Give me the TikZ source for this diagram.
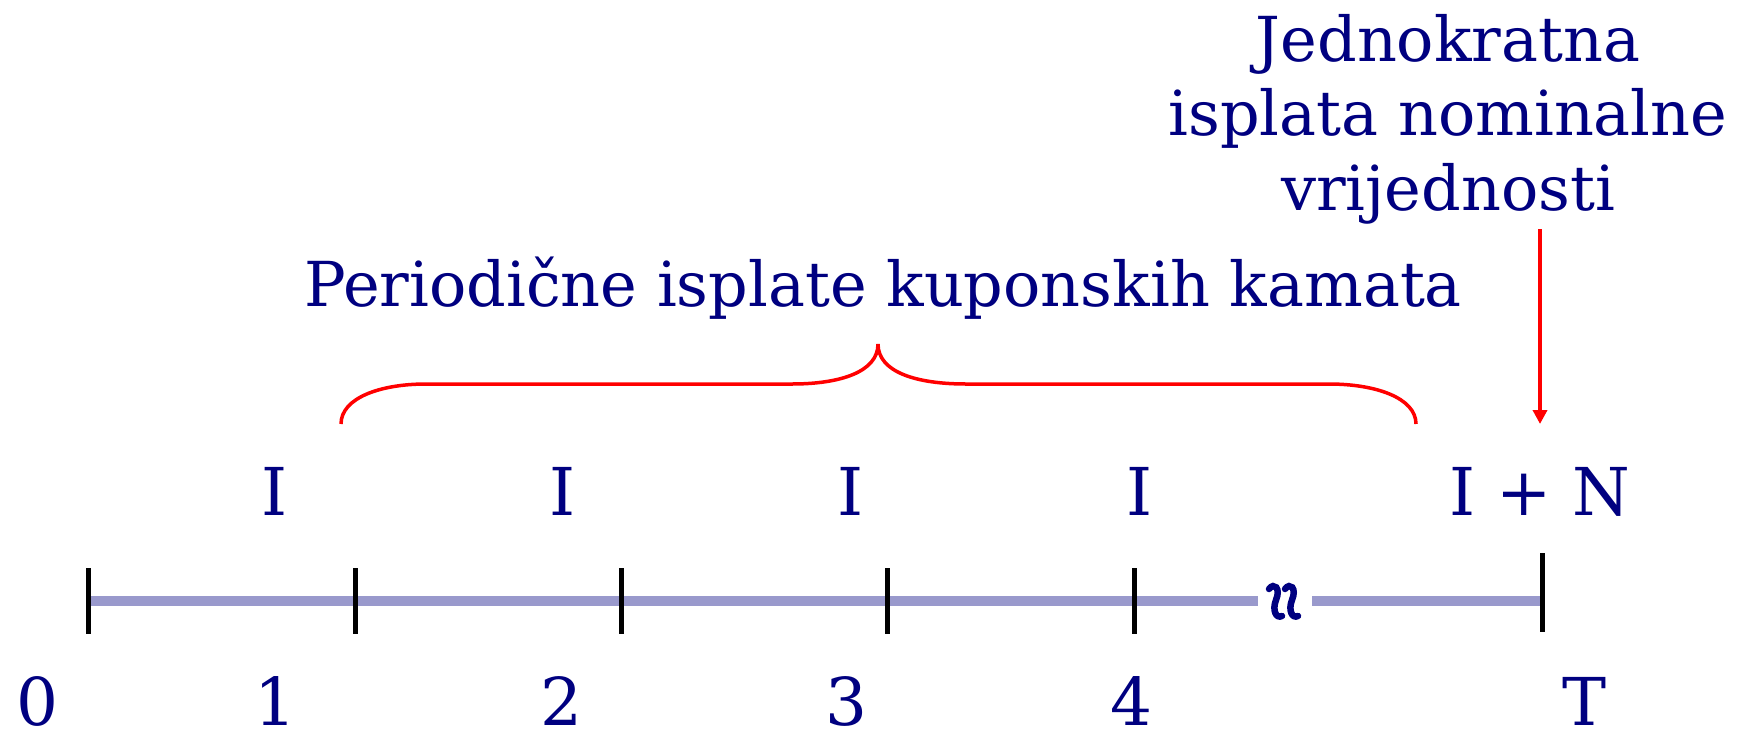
\documentclass[tikz,border=0pt]{standalone}
\usepackage{fontspec}
\setmainfont{DejaVu Serif}
\usetikzlibrary{arrows.meta}
\definecolor{navy}{RGB}{0,0,128}
\definecolor{axisc}{RGB}{153,153,204}
\tikzset{
  lbl/.style={text=navy, anchor=base, inner sep=0pt, font=\fontsize{66}{74}\selectfont},
  title/.style={text=navy, anchor=base, inner sep=0pt, align=center, font=\fontsize{62}{74.5}\selectfont},
  tick/.style={draw=black, line width=5pt},
  axisline/.style={draw=axisc, line width=10pt},
  brace/.style={draw=red, line width=3.5pt},
  arr/.style={draw=red, line width=4pt, -{Triangle[length=14pt,width=14pt]}},
  squig/.style={draw=navy, line width=6.5pt, line cap=round}
}
\begin{document}
\begin{tikzpicture}[x=1pt,y=-1pt]
\useasboundingbox (0,0) rectangle (1737,734);
% tick coordinates
\coordinate (t0a) at (88.6,568); \coordinate (t0b) at (88.6,634);
\coordinate (t1a) at (355.6,568); \coordinate (t1b) at (355.6,634);
\coordinate (t2a) at (621.5,568); \coordinate (t2b) at (621.5,634);
\coordinate (t3a) at (887.4,568); \coordinate (t3b) at (887.4,634);
\coordinate (t4a) at (1134.4,568); \coordinate (t4b) at (1134.4,634);
\coordinate (tTa) at (1542,553); \coordinate (tTb) at (1542,632);
\coordinate (g1) at (1258,601); \coordinate (g2) at (1312,601);
% axis
\draw[axisline] (t0a |- g1) -- (g1);
\draw[axisline] (g2) -- (tTa |- g2);
\foreach \t in {t0,t1,t2,t3,t4,tT} \draw[tick] (\t a) -- (\t b);
% break mark
\draw[squig] (1269,589) .. controls (1274,582) and (1281,588) .. (1276,600) .. controls (1272,610) and (1276,619) .. (1282,616);
\draw[squig] (1285,589) .. controls (1290,582) and (1297,588) .. (1292,600) .. controls (1288,610) and (1292,619) .. (1298,616);
% axis labels
\node[lbl, text depth=0pt] (n0) at (37,725) {0};
\node[lbl, text depth=0pt] (n1) at (275,725) {1};
\node[lbl, text depth=0pt] (n2) at (561,725) {2};
\node[lbl, text depth=0pt] (n3) at (846,725) {3};
\node[lbl, text depth=0pt] (n4) at (1131,725) {4};
\node[lbl, text depth=0pt] (nT) at (1584,725) {T};
% payments
\node[lbl] (i1) at (275,515) {I};
\node[lbl] (i2) at (563,515) {I};
\node[lbl] (i3) at (851,515) {I};
\node[lbl] (i4) at (1140,515) {I};
\node[lbl] (IN) at (1540,515) {I + N};
% brace
\draw[brace] (341,424) .. controls (341,398) and (380,384) .. (426,384) -- (792,384)
  .. controls (840,384) and (878,372) .. (878,344)
  .. controls (878,372) and (916,384) .. (966,384) -- (1329,384)
  .. controls (1376,384) and (1416,398) .. (1416,424);
\node[title] (per) at (883,306) {Periodične isplate kuponskih kamata};
\node[title] (jed) at (1448,210) {Jednokratna\\isplata nominalne\\vrijednosti};
% arrow
\coordinate (aS) at (1540,229);
\coordinate (aE) at (1540,424);
\draw[arr] (aS) -- (aE);
\end{tikzpicture}
\end{document}
